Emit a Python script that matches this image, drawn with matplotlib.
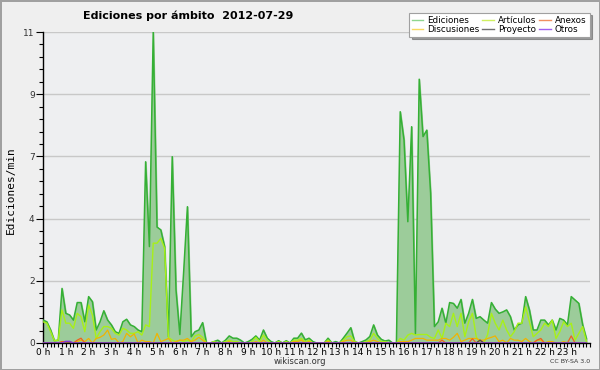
import numpy as np
import matplotlib
matplotlib.use('Agg')
import matplotlib.pyplot as plt
from matplotlib.lines import Line2D

# 10-minute samples, 0h00 .. 23h50 (edits per minute)
ediciones = [
    0.81, 0.75, 0.46, 0.08, 0.10, 1.93, 1.05, 0.99, 0.81, 1.43, 1.43, 0.75,
    1.64, 1.46, 0.46, 0.75, 1.14, 0.81, 0.64, 0.40, 0.34, 0.75, 0.84, 0.64,
    0.58, 0.46, 0.40, 6.41, 3.41, 11.0, 4.10, 4.00, 3.41, 0.22, 6.59, 1.87,
    0.30, 2.50, 4.82, 0.22, 0.40, 0.46, 0.72, 0.00, 0.00, 0.05, 0.10, 0.00,
    0.10, 0.25, 0.17, 0.17, 0.10, 0.00, 0.05, 0.13, 0.25, 0.10, 0.46, 0.17,
    0.05, 0.00, 0.08, 0.00, 0.08, 0.00, 0.17, 0.17, 0.35, 0.11, 0.17, 0.05,
    0.00, 0.00, 0.00, 0.17, 0.00, 0.05, 0.00, 0.17, 0.35, 0.54, 0.05, 0.00,
    0.05, 0.11, 0.23, 0.64, 0.28, 0.13, 0.07, 0.10, 0.00, 0.00, 8.18, 7.18,
    4.29, 7.65, 0.32, 9.33, 7.30, 7.53, 5.30, 0.58, 0.75, 1.23, 0.70, 1.43,
    1.40, 1.23, 1.54, 0.70, 1.05, 1.54, 0.87, 0.93, 0.81, 0.70, 1.43, 1.20,
    1.05, 1.10, 1.17, 0.93, 0.46, 0.64, 0.70, 1.64, 1.17, 0.46, 0.46, 0.81,
    0.81, 0.64, 0.81, 0.46, 0.87, 0.81, 0.64, 1.64, 1.52, 1.40, 0.65, 0.15,
]
articulos = [
    0.75, 0.70, 0.40, 0.08, 0.10, 1.17, 0.70, 0.70, 0.52, 1.05, 0.93, 0.40,
    1.34, 0.99, 0.16, 0.40, 0.58, 0.58, 0.52, 0.34, 0.28, 0.52, 0.46, 0.34,
    0.34, 0.40, 0.28, 0.64, 0.58, 3.53, 3.53, 3.70, 3.35, 0.20, 0.10, 0.05,
    0.10, 0.05, 0.10, 0.05, 0.25, 0.30, 0.20, 0.00, 0.00, 0.05, 0.00, 0.00,
    0.05, 0.10, 0.05, 0.05, 0.00, 0.00, 0.00, 0.05, 0.20, 0.05, 0.28, 0.10,
    0.00, 0.00, 0.05, 0.00, 0.05, 0.00, 0.10, 0.10, 0.16, 0.05, 0.10, 0.00,
    0.00, 0.00, 0.00, 0.10, 0.00, 0.00, 0.00, 0.10, 0.22, 0.25, 0.05, 0.00,
    0.00, 0.05, 0.10, 0.34, 0.16, 0.05, 0.05, 0.00, 0.00, 0.00, 0.16, 0.10,
    0.28, 0.34, 0.28, 0.30, 0.30, 0.30, 0.20, 0.16, 0.46, 0.16, 0.70, 0.58,
    1.05, 0.58, 1.05, 0.22, 0.75, 1.05, 0.22, 0.00, 0.00, 0.30, 1.05, 0.70,
    0.46, 0.81, 0.46, 0.22, 0.40, 0.70, 0.70, 1.28, 0.75, 0.22, 0.34, 0.46,
    0.70, 0.58, 0.81, 0.16, 0.40, 0.75, 0.58, 0.70, 0.10, 0.34, 0.58, 0.05,
]
discusiones = [
    0.00, 0.00, 0.00, 0.00, 0.00, 0.05, 0.00, 0.05, 0.00, 0.05, 0.10, 0.05,
    0.16, 0.00, 0.16, 0.20, 0.28, 0.46, 0.13, 0.16, 0.00, 0.05, 0.34, 0.22,
    0.32, 0.00, 0.10, 0.05, 0.05, 0.00, 0.34, 0.05, 0.10, 0.16, 0.00, 0.05,
    0.10, 0.10, 0.16, 0.05, 0.10, 0.20, 0.10, 0.00, 0.00, 0.00, 0.00, 0.00,
    0.00, 0.05, 0.00, 0.00, 0.00, 0.00, 0.00, 0.00, 0.05, 0.00, 0.10, 0.00,
    0.00, 0.00, 0.00, 0.00, 0.00, 0.00, 0.05, 0.05, 0.10, 0.00, 0.05, 0.00,
    0.00, 0.00, 0.00, 0.05, 0.00, 0.00, 0.00, 0.05, 0.10, 0.10, 0.00, 0.00,
    0.00, 0.00, 0.05, 0.10, 0.05, 0.00, 0.00, 0.00, 0.00, 0.00, 0.05, 0.05,
    0.05, 0.10, 0.16, 0.16, 0.16, 0.10, 0.10, 0.10, 0.10, 0.16, 0.16, 0.10,
    0.20, 0.34, 0.05, 0.10, 0.16, 0.16, 0.16, 0.10, 0.10, 0.16, 0.20, 0.25,
    0.05, 0.10, 0.00, 0.16, 0.10, 0.10, 0.05, 0.16, 0.05, 0.00, 0.10, 0.10,
    0.00, 0.05, 0.05, 0.00, 0.00, 0.05, 0.00, 0.00, 0.00, 0.00, 0.00, 0.00,
]
anexos = [0.0] * 144
for i, v in [(5, 0.05), (6, 0.05), (9, 0.10), (10, 0.17), (105, 0.10), (113, 0.15),
             (115, 0.10), (130, 0.10), (131, 0.16), (139, 0.25)]:
    anexos[i] = v
proyecto = [0.0] * 144
proyecto[115] = 0.10
otros = [0.0] * 144
otros[6] = 0.06
otros[7] = 0.06

hour_labels = ['{} h'.format(h) for h in range(24)]
ytick_vals = [0, 2.2, 4.4, 6.6, 8.8, 11]
ytick_labels = ['0', '2', '4', '7', '9', '11']

x = np.arange(len(ediciones))

fig = plt.figure(figsize=(6, 3.7), dpi=100, facecolor='#efefef',
                 edgecolor='#a0a0a0', linewidth=2)
ax = fig.add_axes([0.0717, 0.073, 0.912, 0.8405])
ax.set_facecolor('#eeeff1')

ax.fill_between(x, ediciones, color='#9ccc9a', zorder=2)
ax.plot(x, ediciones, color='#35b035', lw=1.1, zorder=3)
ax.plot(x, articulos, color='#a8f018', lw=1.0, zorder=4)
ax.plot(x, discusiones, color='#f0b400', lw=0.9, zorder=5)
ax.plot(x, anexos, color='#f06020', lw=0.9, zorder=6)
ax.plot(x, proyecto, color='#505050', lw=0.9, zorder=7)
ax.plot(x, otros, color='#8030e0', lw=0.9, zorder=8)

ax.set_xlim(0, 144)
ax.set_ylim(0, 11)
ax.set_yticks(ytick_vals)
ax.set_yticklabels(ytick_labels)
ax.set_yticks(np.arange(0, 11.01, 0.44), minor=True)
ax.set_xticks(np.arange(0, 144, 6))
ax.set_xticklabels(hour_labels)
ax.set_xticks(np.arange(0, 145, 1), minor=True)
ax.tick_params(axis='y', which='major', length=5, width=0.8, labelsize=6.5,
               labelcolor='#333333', pad=1)
ax.tick_params(axis='y', which='minor', length=3, width=0.8)
ax.tick_params(axis='x', which='both', length=3, width=0.8, labelsize=6.5, pad=0.5)
ax.grid(axis='y', which='major', color='#c8c8c8', lw=1)
ax.set_axisbelow(True)
for s in ['top', 'right']:
    ax.spines[s].set_visible(False)
ax.spines['left'].set_linewidth(1)
ax.spines['bottom'].set_linewidth(1)

fig.text(0.313, 0.957, 'Ediciones por ámbito  2012-07-29', ha='center', va='center',
         fontsize=8, fontweight='bold')
fig.text(0.018, 0.486, 'Ediciones/min', rotation=90, ha='center', va='center',
         fontsize=8, family='DejaVu Sans Mono')
fig.text(0.5, 0.022, 'wikiscan.org', ha='center', va='center', fontsize=6,
         color='#333333')
fig.text(0.983, 0.022, 'CC BY-SA 3.0', ha='right', va='center', fontsize=4.5,
         color='#333333')

handles = [
    Line2D([], [], color='#8fd68f', lw=1),
    Line2D([], [], color='#f8d860', lw=1),
    Line2D([], [], color='#d0f060', lw=1),
    Line2D([], [], color='#707070', lw=1),
    Line2D([], [], color='#f09060', lw=1),
    Line2D([], [], color='#a060f0', lw=1),
]
labels = ['Ediciones', 'Discusiones', 'Artículos', 'Proyecto', 'Anexos', 'Otros']
leg = fig.legend(handles, labels, ncol=3, loc='upper right',
                 bbox_to_anchor=(0.99, 0.978), fontsize=6.3, frameon=True,
                 fancybox=False, shadow=True, handlelength=1.3, handletextpad=0.5,
                 columnspacing=0.3, labelspacing=0.0, borderpad=0.35)
leg.get_frame().set_edgecolor('#a0a0a0')
leg.get_frame().set_linewidth(0.8)

fig.savefig('out.png', dpi=100)
